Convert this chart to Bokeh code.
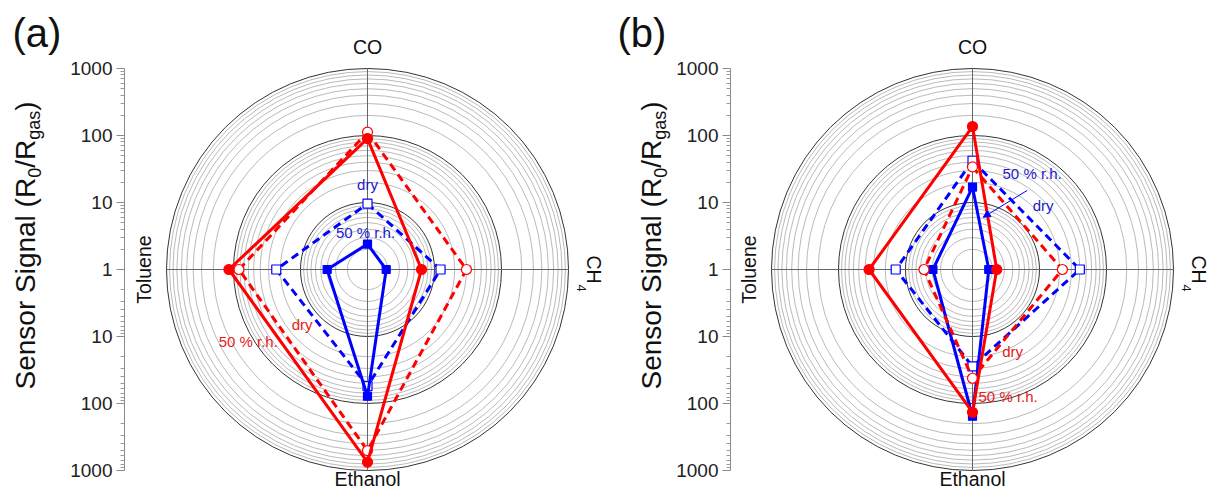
import numpy as np
from bokeh.plotting import figure
from bokeh.layouts import row
from bokeh.models import Range1d, FixedTicker, Label, Arrow, NormalHead
from bokeh.embed import file_html
from bokeh.resources import INLINE

# ---------------- data ----------------
categories = ["CO", "CH4", "Ethanol", "Toluene"]
category_angles = [90, 0, 270, 180]          # position of each gas on the polar plot (deg)

axis_ticks = [-3, -2, -1, 0, 1, 2, 3]
axis_tick_labels = ["1000", "100", "10", "1", "10", "100", "1000"]

# panel (a)
a_blue_dry = [9.6, 12.3, 55, 23]
a_blue_rh50 = [2.4, 1.9, 78, 4.0]
a_red_dry = [112, 30, 505, 83]
a_red_rh50 = [90, 6.4, 750, 117]

# panel (b)
b_blue_dry = [42, 40, 28, 14]
b_blue_rh50 = [17, 1.75, 155, 3.9]
b_red_dry = [34, 22, 42, 5.3]
b_red_rh50 = [136, 2.3, 135, 35]

# ---------------- style / layout ----------------
RED = "#ff0000"
BLUE = "#0000ff"
TXT_BLUE = "#1a1acc"
TXT_RED = "#e62020"
FONT = "Liberation Sans"
PX = 67.0            # pixels per decade
H = 489
CY = 269             # centre of the polar plots (px from top)
MID = 0.347          # em-box middle above the baseline (Liberation Sans)

ARIAL = {'S': 667, 'e': 556, 'n': 556, 's': 500, 'o': 556, 'r': 333, ' ': 278,
         'i': 222, 'g': 556, 'a': 556, 'l': 222, '(': 333, 'R': 722, '/': 278,
         ')': 333, '0': 556}


def tw(s, size):
    return sum(ARIAL[c] for c in s) / 1000.0 * size


def polar(values):
    r = np.log10(np.asarray(values, dtype=float))
    th = np.deg2rad(category_angles)
    x = r * np.cos(th)
    y = r * np.sin(th)
    return list(x) + [x[0]], list(y) + [y[0]]


def d(px):
    return px / PX


def text_panel(width, letter, base_x, sub_x):
    """Strip to the left of the axis: panel letter and composed axis title."""
    p = figure(width=width, height=H, output_backend="svg", toolbar_location=None,
               x_axis_location=None, y_axis_location=None, title=None,
               x_range=Range1d(0, width), y_range=Range1d(0, H),
               min_border_left=0, min_border_right=0,
               min_border_top=0, min_border_bottom=0)
    p.outline_line_color = None
    p.grid.visible = False
    p.add_layout(Label(x=12, y=H - 32, text=letter, text_align="left",
                       text_baseline="middle", text_font=FONT,
                       text_font_size="40px", text_color="#111111"))
    pieces = [("Sensor Signal (R", 28, False), ("0", 18, True), ("/R", 28, False),
              ("gas", 18, True), (")", 28, False)]
    total = sum(tw(s, f) for s, f, _ in pieces)
    y = H - (245 + total / 2.0)
    for s, f, sub in pieces:
        bx = sub_x if sub else base_x
        p.add_layout(Label(x=bx - MID * f, y=y, text=s,
                           angle=np.pi / 2, text_align="left",
                           text_baseline="middle", text_font=FONT,
                           text_font_size=f"{f}px", text_color="#111111"))
        y += tw(s, f)
    return p


def polar_panel(width, border, centre_off, series, notes, arrow=None):
    frame_w = width - border
    p = figure(width=width, height=H, output_backend="svg", toolbar_location=None,
               x_axis_location=None, y_axis_location="left", title=None,
               x_range=Range1d(-centre_off / PX, (frame_w - centre_off) / PX),
               y_range=Range1d(-(H - CY) / PX, CY / PX),
               min_border_left=border, min_border_right=0,
               min_border_top=0, min_border_bottom=0)
    p.outline_line_color = None
    p.grid.visible = False
    p.background_fill_color = "white"

    # y axis (logarithmic, mirrored about "1")
    minor = []
    for dec in range(3):
        for k in range(2, 10):
            v = dec + np.log10(k)
            minor += [v, -v]
    ax = p.yaxis[0]
    ax.ticker = FixedTicker(ticks=axis_ticks, minor_ticks=sorted(minor))
    ax.major_label_overrides = {t: l for t, l in zip(axis_ticks, axis_tick_labels)}
    ax.bounds = (-3, 3)
    ax.axis_line_color = "#8a8a8a"
    ax.major_tick_line_color = "#8a8a8a"
    ax.minor_tick_line_color = "#9a9a9a"
    ax.major_tick_out = 8
    ax.major_tick_in = 0
    ax.minor_tick_out = 4
    ax.minor_tick_in = 0
    ax.major_label_text_font = FONT
    ax.major_label_text_font_size = "19px"
    ax.major_label_text_color = "#222222"
    ax.major_label_standoff = 4

    # polar grid
    minor_r = [dec + np.log10(k) for dec in range(3) for k in range(2, 10)]
    p.circle(x=[0] * len(minor_r), y=[0] * len(minor_r), radius=minor_r,
             fill_color=None, line_color="#a8a8a8", line_width=0.8)
    major_r = [1, 2, 3]
    p.circle(x=[0] * 3, y=[0] * 3, radius=major_r,
             fill_color=None, line_color="#333333", line_width=1)
    p.segment(x0=[-3, 0], y0=[0, -3], x1=[3, 0], y1=[0, 3],
              line_color="#666666", line_width=1)

    # data series
    for vals, color, dash, marker, size, fill in series:
        x, y = polar(vals)
        p.line(x, y, line_color=color, line_width=3, line_dash=dash)
        p.scatter(x[:-1], y[:-1], marker=marker, size=size, fill_color=fill,
                  line_color=color, line_width=1.2)

    # category labels
    lab = dict(text_font=FONT, text_font_size="19.5px", text_color="#111111",
               text_baseline="middle")
    p.add_layout(Label(x=0, y=d(CY - 46), text="CO", text_align="center", **lab))
    p.add_layout(Label(x=0, y=-d(478 - CY), text="Ethanol", text_align="center", **lab))
    p.add_layout(Label(x=-d(224), y=0, text="Toluene", angle=np.pi / 2,
                       text_align="center", **lab))
    p.add_layout(Label(x=d(226), y=0, text="CH", angle=-np.pi / 2,
                       text_align="center", **lab))
    p.add_layout(Label(x=d(214), y=-d(15), text="4", angle=-np.pi / 2,
                       text_align="left", text_baseline="middle", text_font=FONT,
                       text_font_size="13px", text_color="#111111"))

    # annotations
    for text, x, y, color, align in notes:
        p.add_layout(Label(x=x, y=y, text=text, text_align=align,
                           text_baseline="middle", text_font=FONT,
                           text_font_size="15px", text_color=color))
    if arrow is not None:
        (x0, y0), (x1, y1) = arrow
        p.add_layout(Arrow(end=NormalHead(size=7, fill_color=BLUE, line_color=BLUE),
                           x_start=x0, y_start=y0, x_end=x1, y_end=y1,
                           line_color=BLUE, line_width=1))
    return p


series_a = [
    (a_blue_dry, BLUE, "8 5", "square", 9, "white"),
    (a_blue_rh50, BLUE, "solid", "square", 8, BLUE),
    (a_red_dry, RED, "8 5", "circle", 10, "white"),
    (a_red_rh50, RED, "solid", "circle", 10, RED),
]
series_b = [
    (b_blue_dry, BLUE, "8 5", "square", 9, "white"),
    (b_blue_rh50, BLUE, "solid", "square", 8, BLUE),
    (b_red_dry, RED, "8 5", "circle", 10, "white"),
    (b_red_rh50, RED, "solid", "circle", 10, RED),
]

notes_a = [
    ("dry", 0.0, 1.27, TXT_BLUE, "center"),
    ("50 % r.h.", -0.03, 0.545, TXT_BLUE, "center"),
    ("dry", -0.975, -0.82, TXT_RED, "center"),
    ("50 % r.h.", -1.78, -1.075, TXT_RED, "center"),
]
notes_b = [
    ("50 % r.h.", 0.89, 1.44, TXT_BLUE, "center"),
    ("dry", 1.055, 0.955, TXT_BLUE, "center"),
    ("dry", 0.60, -1.22, TXT_RED, "center"),
    ("50 % r.h.", 0.09, -1.9, TXT_RED, "left"),
]

ta = text_panel(64, "(a)", 35, 40)
pa = polar_panel(541, 60, 243, series_a, notes_a)
tb = text_panel(66, "(b)", 56, 61)
pb = polar_panel(537, 59, 242, series_b, notes_b,
                 arrow=((0.816, 1.18), (0.16, 0.78)))

layout = row(ta, pa, tb, pb)
open("out.html", "w").write(file_html(layout, INLINE))
